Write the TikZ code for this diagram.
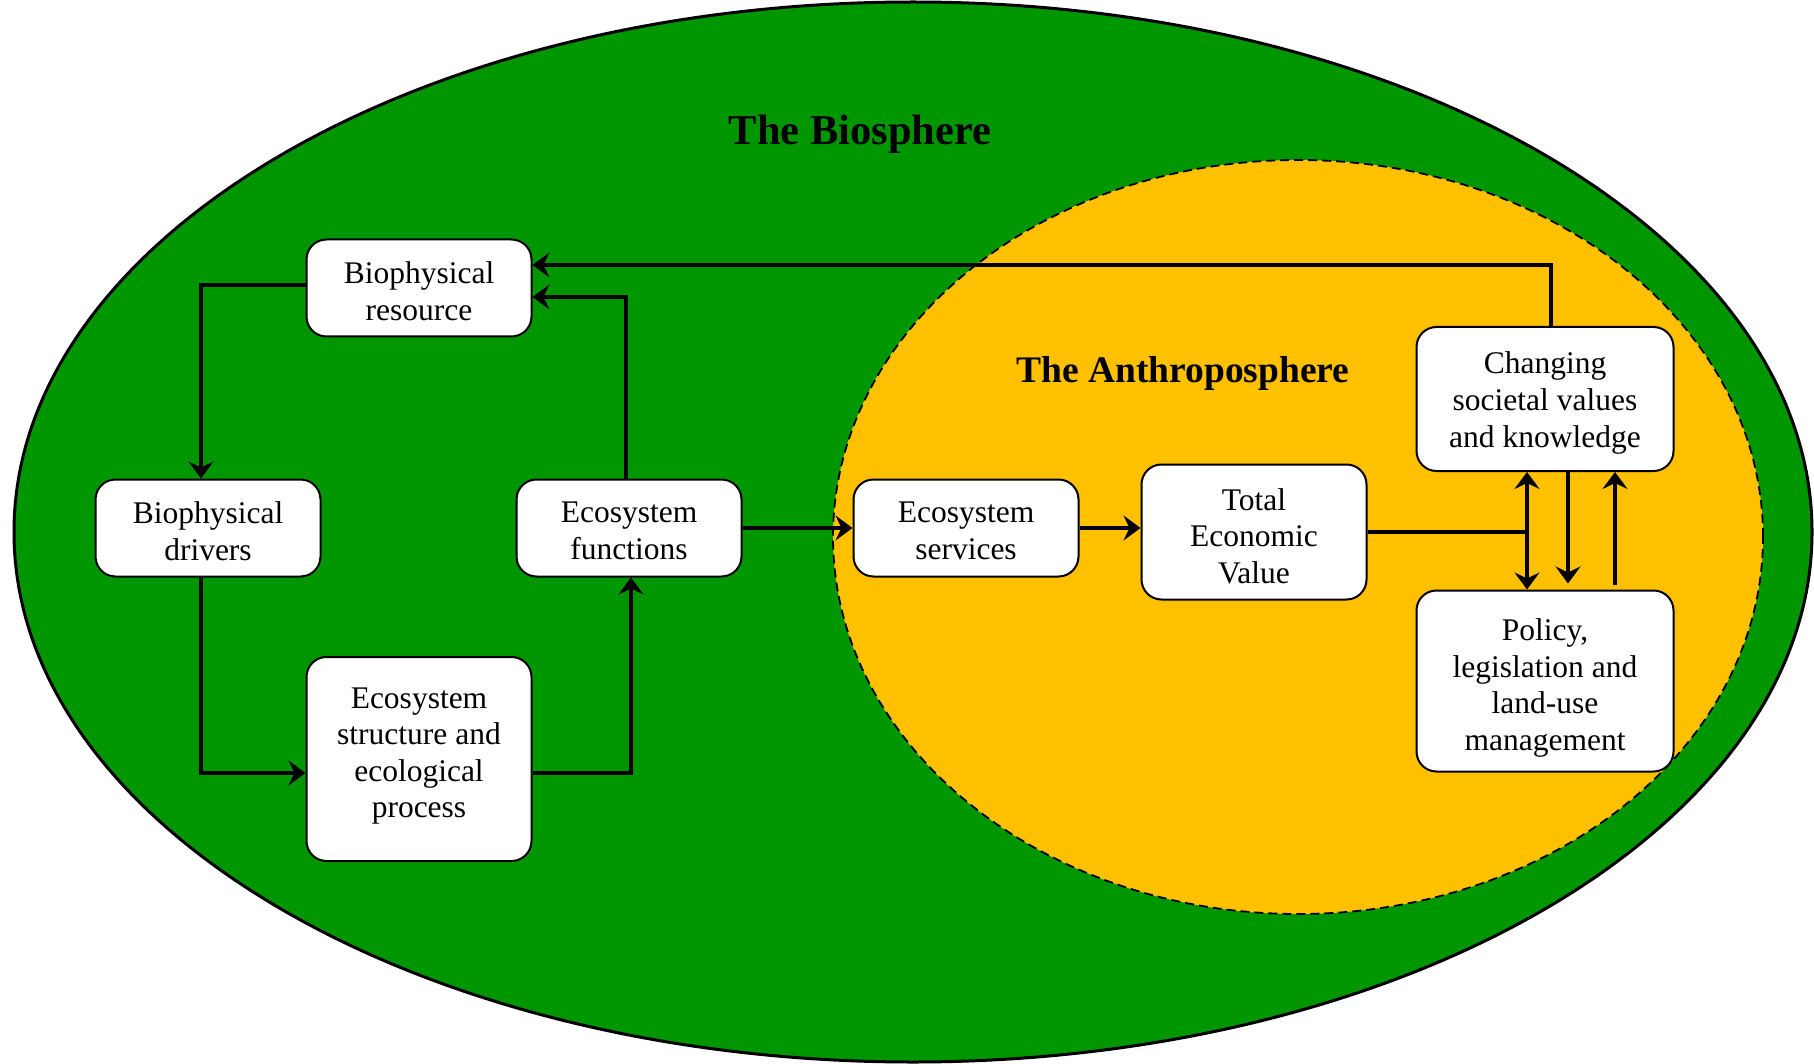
\documentclass[tikz,border=0pt]{standalone}
\usepackage{fontspec}
\setmainfont{Liberation Serif}
\usetikzlibrary{arrows.meta}
\definecolor{biogreen}{RGB}{0,150,0}
\definecolor{anthro}{RGB}{255,192,0}
\tikzset{
  box/.style={draw, line width=2pt, rounded corners=20pt, fill=white,
    inner sep=0pt, minimum width=225pt},
  txt/.style={align=center, inner sep=0pt, font=\fontsize{31.5}{36.6}\selectfont},
  tip/.tip={Stealth[length=17pt,width=25pt,inset=6pt]},
  arr/.style={line width=3.6pt, -tip},
  arrboth/.style={line width=3.6pt, tip-tip},
  plain/.style={line width=3.6pt},
  title/.style={font=\bfseries\fontsize{42.5}{48}\selectfont}
}
\begin{document}
\begin{tikzpicture}[x=1pt,y=-1pt]
\useasboundingbox (0,0) rectangle (1814,1064);
% spheres
\fill[white] (0,0) rectangle (1814,1064);
\draw[line width=3pt, fill=biogreen] (913,532) ellipse [x radius=899pt, y radius=530pt];
\draw[line width=1.8pt, dash pattern=on 9pt off 5pt, fill=anthro] (1298,537) ellipse [x radius=465pt, y radius=377pt];
\node[title] (bio) at (860,134) {The Biosphere};
\node[title, font=\bfseries\fontsize{37.5}{44}\selectfont] (anth) at (1183,373) {The Anthroposphere};
% boxes
\node[box, minimum height=97pt] (res) at (419,288) {};
\node[box, minimum height=97pt] (drv) at (208,528) {};
\node[box, minimum height=97pt] (fun) at (629,528) {};
\node[box, minimum height=204pt] (str) at (419,759) {};
\node[box, minimum height=97pt] (svc) at (966,528) {};
\node[box, minimum height=135pt] (tev) at (1254,532) {};
\node[box, minimum width=257pt, minimum height=144pt] (chg) at (1545,399) {};
\node[box, minimum width=257pt, minimum height=181pt] (pol) at (1545,681) {};
% texts
\node[txt] (resT) at ([yshift=-3.5pt]res.center) {Biophysical\\resource};
\node[txt] (drvT) at ([yshift=-3pt]drv.center) {Biophysical\\drivers};
\node[txt] (funT) at ([yshift=-3pt]fun.center) {Ecosystem\\functions};
\node[txt] (strT) at ([yshift=3pt]str.center) {Ecosystem\\structure and\\ecological\\process};
\node[txt] (svcT) at ([yshift=-3pt]svc.center) {Ecosystem\\services};
\node[txt] (tevT) at ([yshift=-4pt]tev.center) {Total\\Economic\\Value};
\node[txt] (chgT) at ([yshift=-4pt]chg.center) {Changing\\societal values\\and knowledge};
\node[txt] (polT) at ([yshift=-7pt]pol.center) {Policy,\\legislation and\\land-use\\management};
% connectors
\draw[arr] ([yshift=3pt]res.west) -| ([xshift=-7pt]drv.north);
\draw[arr] ([xshift=-7pt]drv.south) |- ([yshift=-14pt]str.west);
\draw[arr] ([yshift=-14pt]str.east) -| ([xshift=2pt]fun.south);
\draw[arr] ([xshift=-3pt]fun.north) |- ([yshift=-9pt]res.east);
\draw[arr] ([xshift=6pt]chg.north) |- ([yshift=23pt]res.east);
\draw[arr] (fun.east) -- (svc.west);
\draw[arr] (svc.east) -- (svc.east -| tev.west);
\coordinate (j) at (1527,530);
\draw[plain] (tev.east) -- (tev.east -| j);
\draw[arrboth] (j |- chg.south) -- (j |- pol.north);
\draw[arr] ([xshift=23pt]chg.south) -- ([xshift=23pt,yshift=6pt]pol.north);
\draw[arr] ([xshift=70pt,yshift=5pt]pol.north) -- ([xshift=70pt]chg.south);
\end{tikzpicture}
\end{document}
